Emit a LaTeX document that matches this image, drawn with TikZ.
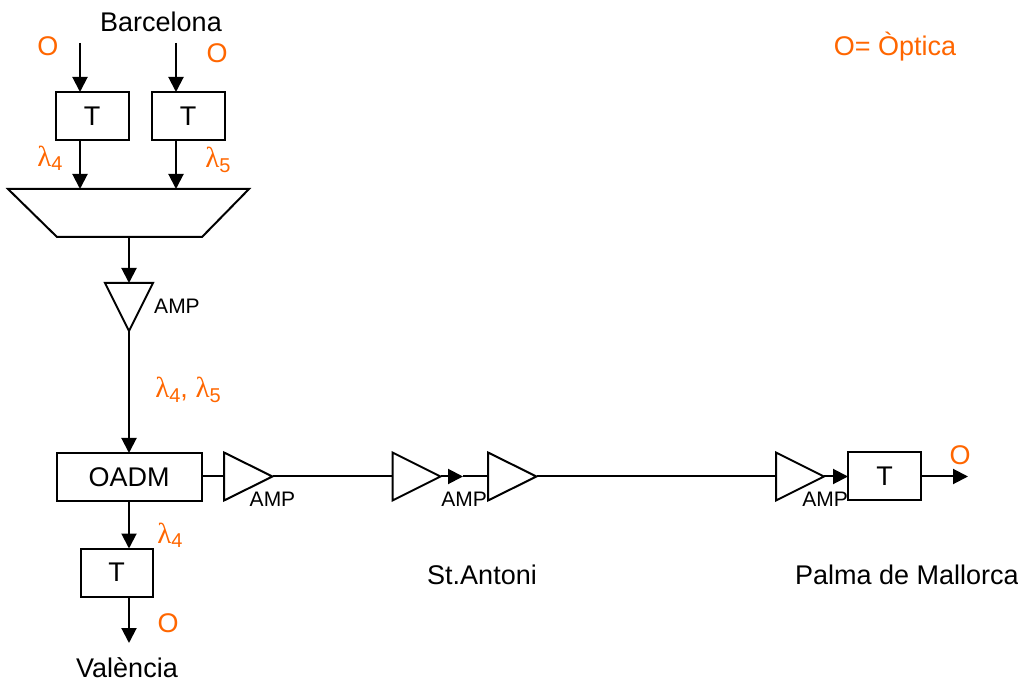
\documentclass[tikz,border=0pt]{standalone}
\usepackage{fontspec}
\setmainfont{Liberation Sans}
\newfontfamily\lamfont{Liberation Serif}
\usetikzlibrary{arrows.meta}
\definecolor{orng}{RGB}{255,102,0}
\newcommand\lam[1]{{\lamfont\fontsize{29}{30}\selectfont λ}\raisebox{-0.3ex}{\fontsize{20}{20}\selectfont #1}}
\begin{document}
\begin{tikzpicture}[x=1pt,y=-1pt,line width=2pt,
  >={Triangle[length=15pt,width=15pt]},
  box/.style={draw, minimum width=73pt, minimum height=48pt, inner sep=0pt, outer sep=0pt, font=\fontsize{27}{30}\selectfont},
  txt/.style={font=\fontsize{27}{30}\selectfont, inner sep=0pt},
  otxt/.style={txt, text=orng},
  amptxt/.style={font=\fontsize{21}{24}\selectfont, inner sep=0pt},
  ampshape/.style={draw, line join=miter, fill=white}]
\useasboundingbox (0,0) rectangle (1018,684);

% labels
\node[txt] (barc) at (161,22) {Barcelona};
\node[otxt] (o1) at (48,46) {O};
\node[otxt] (o2) at (217,53) {O};
\node[otxt] (legend) at (895,47) {O= Òptica};
\node[otxt] (l4a) at (50,158) {\lam{4}};
\node[otxt] (l5a) at (218,160) {\lam{5}};
\node[otxt] (l45) at (188,390) {\lam{4}, \lam{5}};
\node[otxt] (l4b) at (170,535) {\lam{4}};
\node[otxt] (o3) at (168,623) {O};
\node[otxt] (o4) at (960,455) {O};
\node[txt] (val) at (127,668) {València};
\node[txt] (stant) at (482,575) {St.Antoni};
\node[txt] (palma) at (907,575) {Palma de Mallorca};

% transmitters
\node[box] (t1) at (92,116) {T};
\node[box] (t2) at (188,116) {T};
\node[box, minimum width=145pt] (oadm) at (129,477) {OADM};
\node[box, minimum width=72pt] (tv) at (116.5,572.5) {T};
\node[box] (tp) at (884.5,476.5) {T};

% inputs
\coordinate (s1) at (80,43);
\coordinate (s2) at (176,43);
\draw[->] (s1) -- (s1 |- t1.north);
\draw[->] (s2) -- (s2 |- t2.north);

% multiplexer
\draw[line join=miter] (8,189) -- (249,189) -- (202,237) -- (57,237) -- cycle;
\coordinate (m1) at (80,189);
\coordinate (m2) at (176,189);
\coordinate (mout) at (129,237);
\draw[->] (s1 |- t1.south) -- (m1);
\draw[->] (s2 |- t2.south) -- (m2);

% vertical amplifier
\coordinate (a0in) at (129,283);
\coordinate (a0out) at (129,331);
\draw[->] (mout) -- (a0in);
\draw[ampshape] (105,283) -- (153,283) -- (a0out) -- cycle;
\node[amptxt] (amp0) at (177,306) {AMP};
\draw[->] (a0out) -- (oadm.north);

% drop branch
\draw[->] (oadm.south) -- (oadm.south |- tv.north);
\coordinate (vend) at (129,643);
\draw[->] (oadm.south |- tv.south) -- (vend);

% horizontal chain
\coordinate (a1in) at (224,476.5);
\coordinate (a1out) at (272.5,476.5);
\coordinate (a2in) at (392.5,476.5);
\coordinate (a2out) at (440.5,476.5);
\coordinate (a3in) at (488,476.5);
\coordinate (a3out) at (536.5,476.5);
\coordinate (a4in) at (776,476.5);
\coordinate (a4out) at (824,476.5);
\coordinate (pend) at (968,476.5);

\draw (oadm.east |- a1in) -- (a1in);
\draw (a1out) -- (a2in);
\draw[->] (a2out) -- (463,476.5);
\draw (463,476.5) -- (a3in);
\draw (a3out) -- (a4in);
\draw[->] (a4out) -- (tp.west);
\draw[->] (tp.east) -- (pend);

\draw[ampshape] (224,452.5) -- (a1out) -- (224,500.5) -- cycle;
\draw[ampshape] (392.5,452.5) -- (a2out) -- (392.5,500.5) -- cycle;
\draw[ampshape] (488,452.5) -- (a3out) -- (488,500.5) -- cycle;
\draw[ampshape] (776,452.5) -- (a4out) -- (776,500.5) -- cycle;

\node[amptxt] (amp1) at (272.5,499) {AMP};
\node[amptxt] (amp2) at (464,499) {AMP};
\node[amptxt] (amp4) at (825,499) {AMP};
\end{tikzpicture}
\end{document}
